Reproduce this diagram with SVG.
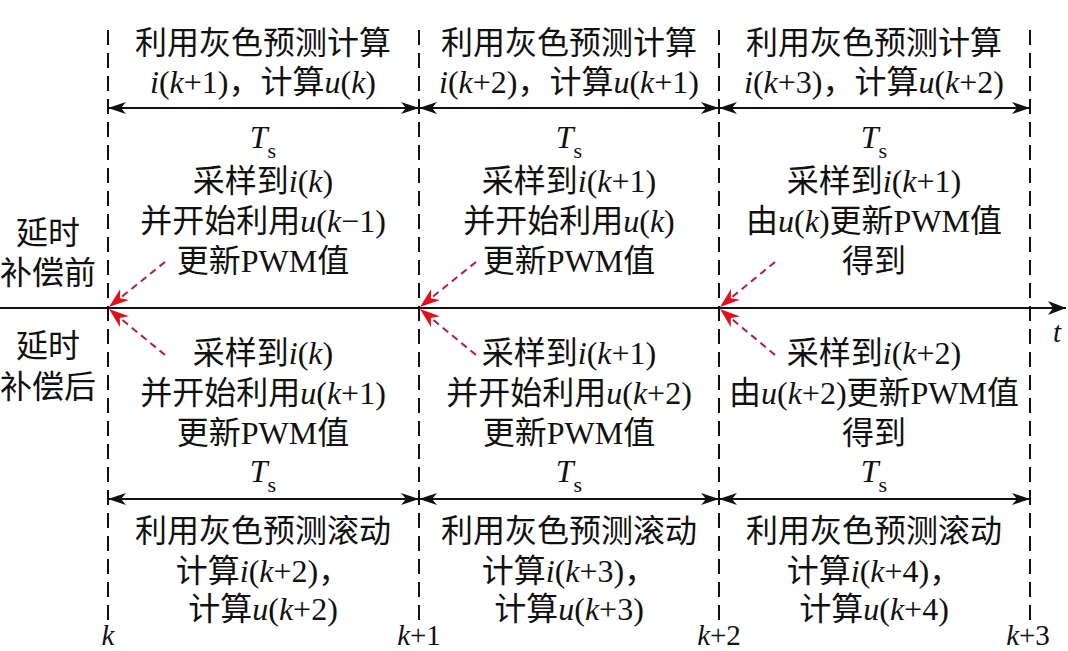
<svg xmlns="http://www.w3.org/2000/svg" width="1068" height="651" viewBox="0 0 1068 651">
<style>
text{font-family:'Liberation Serif','Noto Sans CJK SC',serif;font-size:32px;fill:#111;text-anchor:middle}
.it{font-style:italic}
.sub{font-size:22px;font-style:normal}
.tick{font-size:29px}
.grid{stroke:#111;stroke-width:2;stroke-dasharray:15 8;fill:none}
.axis{stroke:#111;stroke-width:2;fill:none}
.dim{stroke:#111;stroke-width:2;fill:none;marker-start:url(#ab);marker-end:url(#ae)}
.red{stroke:#c0183a;stroke-width:2;stroke-dasharray:7 5;fill:none;marker-end:url(#ar)}
</style>
<defs>
<marker id="ae" viewBox="0 0 18 12" refX="18" refY="6" markerWidth="18" markerHeight="12" markerUnits="userSpaceOnUse" orient="auto">
<path d="M0,0 L18,6 L0,12 L5,6 Z" fill="#111"/>
</marker>
<marker id="ab" viewBox="0 0 18 12" refX="0" refY="6" markerWidth="18" markerHeight="12" markerUnits="userSpaceOnUse" orient="auto">
<path d="M18,0 L0,6 L18,12 L13,6 Z" fill="#111"/>
</marker>
<marker id="ar" viewBox="0 0 20 14" refX="20" refY="7" markerWidth="20" markerHeight="14" markerUnits="userSpaceOnUse" orient="auto">
<path d="M0,0 L20,7 L0,14 L6,7 Z" fill="#e3101c"/>
</marker>
<marker id="ax" viewBox="0 0 18 14" refX="18" refY="7" markerWidth="18" markerHeight="14" markerUnits="userSpaceOnUse" orient="auto">
<path d="M0,0 L18,7 L0,14 L5,7 Z" fill="#111"/>
</marker>
</defs>
<rect width="1068" height="651" fill="#fff"/>

<g id="connectors">
<line class="grid" x1="108" y1="30" x2="108" y2="626"/>
<line class="grid" x1="419" y1="30" x2="419" y2="626"/>
<line class="grid" x1="719" y1="30" x2="719" y2="626"/>
<line class="grid" x1="1030" y1="30" x2="1030" y2="626"/>
<line class="axis" x1="0" y1="308" x2="1066" y2="308" marker-end="url(#ax)"/>
<line class="dim" x1="108" y1="108" x2="419" y2="108"/>
<line class="dim" x1="419" y1="108" x2="719" y2="108"/>
<line class="dim" x1="719" y1="108" x2="1030" y2="108"/>
<line class="dim" x1="108" y1="499" x2="419" y2="499"/>
<line class="dim" x1="419" y1="499" x2="719" y2="499"/>
<line class="dim" x1="719" y1="499" x2="1030" y2="499"/>
<line class="red" x1="165" y1="262" x2="109" y2="307"/>
<line class="red" x1="165" y1="355" x2="109" y2="309"/>
<line class="red" x1="476" y1="262" x2="420" y2="307"/>
<line class="red" x1="476" y1="355" x2="420" y2="309"/>
<line class="red" x1="775" y1="262" x2="720" y2="307"/>
<line class="red" x1="775" y1="355" x2="720" y2="309"/>
</g>

<g id="label-before">
<text x="48" y="244">延时</text>
<text x="48" y="284">补偿前</text>
</g>
<g id="label-after">
<text x="48" y="357">延时</text>
<text x="48" y="398">补偿后</text>
</g>

<g id="top-1">
<text x="263" y="54">利用灰色预测计算</text>
<text x="263" y="93"><tspan class="it">i</tspan>(<tspan class="it">k</tspan>+1)，计算<tspan class="it">u</tspan>(<tspan class="it">k</tspan>)</text>
</g>
<g id="top-2">
<text x="569" y="54">利用灰色预测计算</text>
<text x="569" y="93"><tspan class="it">i</tspan>(<tspan class="it">k</tspan>+2)，计算<tspan class="it">u</tspan>(<tspan class="it">k</tspan>+1)</text>
</g>
<g id="top-3">
<text x="874" y="54">利用灰色预测计算</text>
<text x="874" y="93"><tspan class="it">i</tspan>(<tspan class="it">k</tspan>+3)，计算<tspan class="it">u</tspan>(<tspan class="it">k</tspan>+2)</text>
</g>

<g id="before-1">
<text x="263" y="148"><tspan class="it">T</tspan><tspan class="sub" dy="10">s</tspan></text>
<text x="263" y="192">采样到<tspan class="it">i</tspan>(<tspan class="it">k</tspan>)</text>
<text x="263" y="232">并开始利用<tspan class="it">u</tspan>(<tspan class="it">k</tspan>−1)</text>
<text x="263" y="272">更新PWM值</text>
</g>
<g id="before-2">
<text x="569" y="148"><tspan class="it">T</tspan><tspan class="sub" dy="10">s</tspan></text>
<text x="569" y="192">采样到<tspan class="it">i</tspan>(<tspan class="it">k</tspan>+1)</text>
<text x="569" y="232">并开始利用<tspan class="it">u</tspan>(<tspan class="it">k</tspan>)</text>
<text x="569" y="272">更新PWM值</text>
</g>
<g id="before-3">
<text x="874" y="148"><tspan class="it">T</tspan><tspan class="sub" dy="10">s</tspan></text>
<text x="874" y="192">采样到<tspan class="it">i</tspan>(<tspan class="it">k</tspan>+1)</text>
<text x="874" y="232">由<tspan class="it">u</tspan>(<tspan class="it">k</tspan>)更新PWM值</text>
<text x="874" y="272">得到</text>
</g>

<g id="after-1">
<text x="263" y="364">采样到<tspan class="it">i</tspan>(<tspan class="it">k</tspan>)</text>
<text x="263" y="404">并开始利用<tspan class="it">u</tspan>(<tspan class="it">k</tspan>+1)</text>
<text x="263" y="444">更新PWM值</text>
<text x="263" y="482"><tspan class="it">T</tspan><tspan class="sub" dy="10">s</tspan></text>
</g>
<g id="after-2">
<text x="569" y="364">采样到<tspan class="it">i</tspan>(<tspan class="it">k</tspan>+1)</text>
<text x="569" y="404">并开始利用<tspan class="it">u</tspan>(<tspan class="it">k</tspan>+2)</text>
<text x="569" y="444">更新PWM值</text>
<text x="569" y="482"><tspan class="it">T</tspan><tspan class="sub" dy="10">s</tspan></text>
</g>
<g id="after-3">
<text x="874" y="364">采样到<tspan class="it">i</tspan>(<tspan class="it">k</tspan>+2)</text>
<text x="874" y="404">由<tspan class="it">u</tspan>(<tspan class="it">k</tspan>+2)更新PWM值</text>
<text x="874" y="444">得到</text>
<text x="874" y="482"><tspan class="it">T</tspan><tspan class="sub" dy="10">s</tspan></text>
</g>

<g id="bottom-1">
<text x="263" y="542">利用灰色预测滚动</text>
<text x="263" y="582">计算<tspan class="it">i</tspan>(<tspan class="it">k</tspan>+2)，</text>
<text x="263" y="620">计算<tspan class="it">u</tspan>(<tspan class="it">k</tspan>+2)</text>
</g>
<g id="bottom-2">
<text x="569" y="542">利用灰色预测滚动</text>
<text x="569" y="582">计算<tspan class="it">i</tspan>(<tspan class="it">k</tspan>+3)，</text>
<text x="569" y="620">计算<tspan class="it">u</tspan>(<tspan class="it">k</tspan>+3)</text>
</g>
<g id="bottom-3">
<text x="874" y="542">利用灰色预测滚动</text>
<text x="874" y="582">计算<tspan class="it">i</tspan>(<tspan class="it">k</tspan>+4)，</text>
<text x="874" y="620">计算<tspan class="it">u</tspan>(<tspan class="it">k</tspan>+4)</text>
</g>

<g id="ticks">
<text x="108" y="645" class="it tick">k</text>
<text x="419" y="645" class="tick"><tspan class="it">k</tspan>+1</text>
<text x="719" y="645" class="tick"><tspan class="it">k</tspan>+2</text>
<text x="1028" y="645" class="tick"><tspan class="it">k</tspan>+3</text>
<text x="1057" y="342" class="it tick">t</text>
</g>
</svg>
